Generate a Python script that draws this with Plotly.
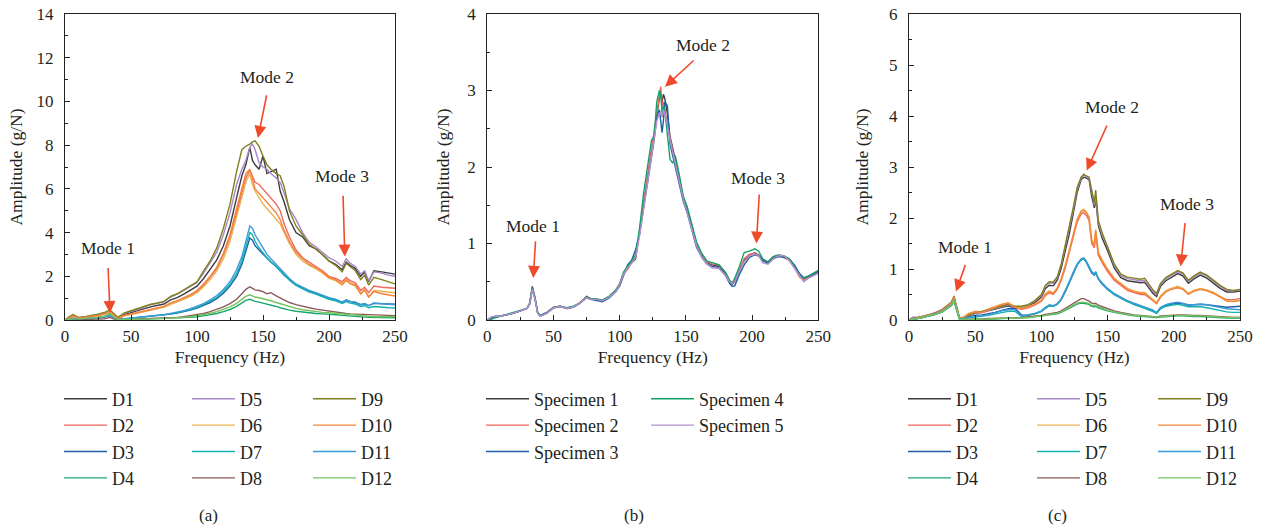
import plotly.graph_objects as go

# ---------------- data ----------------
FA = [0, 3, 6, 10, 15, 20, 25, 30, 34, 36,
      40, 45, 50, 55, 60, 65, 70, 75, 80, 85,
      90, 95, 100, 105, 110, 115, 120, 125, 130, 134,
      137, 140, 142, 144, 147, 150, 153, 156, 160, 163,
      166, 170, 175, 180, 185, 190, 195, 200, 205, 210,
      213, 216, 220, 224, 227, 230, 234, 240, 245, 250]

A_D1 = [0, 0.10, 0.20, 0.10, 0.12, 0.17, 0.23, 0.30, 0.40, 0.30,
        0.08, 0.25, 0.35, 0.42, 0.52, 0.60, 0.66, 0.73, 0.92, 1.02,
        1.18, 1.35, 1.55, 1.90, 2.30, 2.75, 3.40, 4.30, 5.60, 6.60,
        7.10, 7.90, 7.30, 7.10, 6.90, 7.50, 6.70, 6.80, 6.90, 5.90,
        5.40, 4.60, 4.00, 3.80, 3.40, 3.25, 3.00, 2.70, 2.55, 2.30,
        2.65, 2.50, 2.35, 2.00, 2.20, 1.75, 2.25, 2.20, 2.15, 2.10]
A_D5 = [0, 0.12, 0.22, 0.10, 0.13, 0.18, 0.25, 0.32, 0.42, 0.33,
        0.10, 0.30, 0.40, 0.48, 0.60, 0.70, 0.76, 0.83, 1.05, 1.18,
        1.35, 1.52, 1.72, 2.15, 2.60, 3.10, 3.90, 4.90, 6.20, 6.90,
        7.30, 7.90, 8.05, 7.80, 7.20, 7.00, 6.90, 6.70, 6.50, 6.30,
        5.80, 5.10, 4.60, 4.00, 3.55, 3.35, 3.10, 2.85, 2.70, 2.45,
        2.80, 2.60, 2.45, 2.10, 2.25, 1.80, 2.20, 2.15, 2.05, 2.00]
A_D9 = [0, 0.15, 0.25, 0.12, 0.15, 0.20, 0.27, 0.35, 0.45, 0.35,
        0.12, 0.32, 0.42, 0.50, 0.62, 0.72, 0.78, 0.85, 1.08, 1.20,
        1.38, 1.55, 1.75, 2.25, 2.70, 3.30, 4.20, 5.30, 6.80, 7.80,
        7.95, 8.05, 8.15, 8.20, 7.95, 7.50, 7.10, 6.90, 6.70, 6.60,
        6.10, 5.00, 4.30, 3.90, 3.45, 3.25, 3.00, 2.70, 2.50, 2.20,
        2.60, 2.45, 2.25, 1.85, 2.05, 1.60, 1.95, 1.85, 1.75, 1.65]
A_D2 = [0, 0.10, 0.18, 0.08, 0.10, 0.15, 0.20, 0.27, 0.38, 0.28,
        0.06, 0.20, 0.28, 0.33, 0.40, 0.47, 0.52, 0.60, 0.75, 0.85,
        0.98, 1.12, 1.30, 1.60, 1.95, 2.35, 3.00, 3.80, 4.90, 5.80,
        6.50, 6.85, 6.60, 6.30, 6.20, 6.00, 5.80, 5.60, 5.30, 5.00,
        4.40, 3.80, 3.20, 2.85, 2.65, 2.45, 2.25, 2.00, 1.90, 1.75,
        1.95, 1.80, 1.70, 1.35, 1.50, 1.25, 1.55, 1.50, 1.48, 1.45]
A_D6 = [0, 0.09, 0.17, 0.08, 0.10, 0.14, 0.19, 0.26, 0.36, 0.27,
        0.06, 0.19, 0.27, 0.32, 0.39, 0.45, 0.50, 0.58, 0.72, 0.82,
        0.95, 1.08, 1.25, 1.52, 1.85, 2.25, 2.80, 3.60, 4.70, 5.60,
        6.30, 6.70, 6.20, 5.90, 5.60, 5.30, 5.10, 4.90, 4.60, 4.40,
        4.00, 3.50, 3.00, 2.70, 2.50, 2.35, 2.15, 1.90, 1.80, 1.60,
        1.80, 1.65, 1.55, 1.20, 1.35, 1.05, 1.35, 1.30, 1.28, 1.25]
A_D10 = [0, 0.10, 0.19, 0.09, 0.11, 0.16, 0.21, 0.28, 0.40, 0.29,
         0.07, 0.21, 0.29, 0.34, 0.41, 0.48, 0.54, 0.62, 0.78, 0.88,
         1.02, 1.16, 1.35, 1.65, 2.00, 2.42, 3.05, 3.90, 5.10, 6.00,
         6.70, 6.90, 6.50, 6.00, 5.80, 5.60, 5.40, 5.20, 4.90, 4.60,
         4.10, 3.60, 3.10, 2.80, 2.55, 2.40, 2.20, 1.95, 1.85, 1.65,
         1.85, 1.70, 1.60, 1.20, 1.40, 1.05, 1.30, 1.20, 1.15, 1.10]
A_D3 = [0, 0.04, 0.07, 0.04, 0.05, 0.07, 0.09, 0.13, 0.20, 0.13,
        0.02, 0.05, 0.08, 0.10, 0.13, 0.16, 0.18, 0.22, 0.27, 0.32,
        0.38, 0.46, 0.55, 0.66, 0.80, 0.98, 1.22, 1.55, 2.00, 2.55,
        3.10, 3.75, 3.65, 3.40, 3.20, 3.00, 2.80, 2.65, 2.45, 2.25,
        2.05, 1.85, 1.60, 1.45, 1.32, 1.22, 1.10, 1.00, 0.93, 0.82,
        0.90, 0.84, 0.80, 0.70, 0.74, 0.66, 0.76, 0.74, 0.73, 0.72]
A_D7 = [0, 0.04, 0.07, 0.04, 0.05, 0.07, 0.09, 0.14, 0.21, 0.14,
        0.02, 0.05, 0.08, 0.11, 0.14, 0.17, 0.19, 0.23, 0.28, 0.34,
        0.40, 0.48, 0.58, 0.70, 0.85, 1.04, 1.30, 1.62, 2.12, 2.70,
        3.30, 4.00, 3.90, 3.60, 3.30, 3.05, 2.85, 2.65, 2.45, 2.25,
        2.05, 1.82, 1.58, 1.42, 1.28, 1.18, 1.05, 0.95, 0.88, 0.76,
        0.84, 0.77, 0.73, 0.62, 0.66, 0.56, 0.62, 0.58, 0.56, 0.55]
A_D11 = [0, 0.05, 0.08, 0.05, 0.06, 0.08, 0.10, 0.15, 0.22, 0.15,
         0.03, 0.06, 0.09, 0.12, 0.15, 0.18, 0.20, 0.24, 0.30, 0.36,
         0.43, 0.52, 0.62, 0.75, 0.92, 1.12, 1.40, 1.75, 2.30, 2.90,
         3.60, 4.30, 4.20, 3.90, 3.60, 3.30, 3.00, 2.80, 2.55, 2.35,
         2.15, 1.90, 1.65, 1.50, 1.35, 1.25, 1.12, 1.02, 0.95, 0.82,
         0.92, 0.85, 0.82, 0.70, 0.75, 0.65, 0.78, 0.75, 0.72, 0.70]
A_D4 = [0, 0.03, 0.05, 0.05, 0.07, 0.09, 0.11, 0.15, 0.28, 0.18,
        0.01, 0.01, 0.02, 0.03, 0.03, 0.04, 0.05, 0.06, 0.07, 0.08,
        0.10, 0.12, 0.15, 0.19, 0.24, 0.30, 0.38, 0.48, 0.62, 0.78,
        0.90, 0.95, 0.90, 0.85, 0.82, 0.78, 0.72, 0.68, 0.62, 0.56,
        0.50, 0.45, 0.40, 0.36, 0.33, 0.30, 0.28, 0.27, 0.24, 0.21,
        0.19, 0.17, 0.16, 0.14, 0.13, 0.12, 0.11, 0.11, 0.10, 0.10]
A_D8 = [0, 0.02, 0.03, 0.02, 0.02, 0.03, 0.04, 0.06, 0.12, 0.06,
        0.01, 0.02, 0.03, 0.04, 0.05, 0.06, 0.07, 0.08, 0.10, 0.12,
        0.15, 0.19, 0.24, 0.30, 0.38, 0.48, 0.60, 0.75, 0.95, 1.20,
        1.40, 1.52, 1.45, 1.38, 1.35, 1.30, 1.20, 1.25, 1.10, 1.00,
        0.90, 0.80, 0.70, 0.62, 0.56, 0.50, 0.45, 0.42, 0.38, 0.33,
        0.30, 0.28, 0.27, 0.25, 0.24, 0.23, 0.22, 0.21, 0.20, 0.20]
A_D12 = [0, 0.03, 0.05, 0.05, 0.07, 0.10, 0.12, 0.17, 0.30, 0.18,
         0.01, 0.02, 0.02, 0.03, 0.04, 0.05, 0.06, 0.07, 0.08, 0.10,
         0.12, 0.15, 0.19, 0.24, 0.30, 0.38, 0.48, 0.60, 0.76, 0.95,
         1.08, 1.15, 1.10, 1.05, 1.02, 0.98, 0.92, 0.88, 0.80, 0.74,
         0.68, 0.60, 0.53, 0.47, 0.42, 0.38, 0.35, 0.33, 0.30, 0.26,
         0.24, 0.22, 0.21, 0.19, 0.18, 0.17, 0.16, 0.15, 0.15, 0.15]

FB = [0, 3, 6, 10, 15, 20, 25, 30, 32, 34,
      36, 38, 40, 45, 50, 55, 60, 65, 70, 75,
      78, 82, 87, 92, 97, 100, 103, 106, 109, 112,
      115, 118, 121, 124, 126, 128, 130, 131, 132, 133,
      134, 136, 138, 140, 142, 145, 148, 151, 155, 158,
      162, 166, 170, 175, 180, 183, 185, 187, 190, 194,
      198, 202, 205, 208, 212, 216, 220, 224, 228, 232,
      236, 239, 243, 247, 250]

B_S1 = [0, 0.03, 0.04, 0.05, 0.07, 0.09, 0.12, 0.15, 0.22, 0.44,
        0.30, 0.10, 0.05, 0.09, 0.16, 0.18, 0.15, 0.17, 0.22, 0.31,
        0.28, 0.27, 0.25, 0.30, 0.38, 0.45, 0.60, 0.68, 0.75, 0.80,
        1.15, 1.50, 1.85, 2.20, 2.40, 2.70, 2.90, 2.95, 2.85, 2.95,
        2.90, 2.70, 2.40, 2.25, 2.10, 1.85, 1.60, 1.45, 1.20, 1.00,
        0.85, 0.75, 0.72, 0.70, 0.60, 0.50, 0.47, 0.50, 0.62, 0.78,
        0.85, 0.88, 0.85, 0.78, 0.75, 0.82, 0.84, 0.83, 0.80, 0.70,
        0.60, 0.55, 0.57, 0.60, 0.63]
B_S2 = [0, 0.02, 0.04, 0.05, 0.07, 0.09, 0.12, 0.15, 0.21, 0.42,
        0.28, 0.09, 0.05, 0.10, 0.17, 0.18, 0.15, 0.17, 0.23, 0.30,
        0.28, 0.27, 0.26, 0.31, 0.39, 0.48, 0.62, 0.66, 0.76, 0.82,
        1.18, 1.55, 1.90, 2.25, 2.45, 2.75, 2.95, 3.05, 2.80, 2.85,
        2.75, 2.55, 2.35, 2.20, 2.05, 1.80, 1.58, 1.42, 1.18, 0.98,
        0.84, 0.76, 0.73, 0.72, 0.62, 0.52, 0.48, 0.52, 0.65, 0.80,
        0.86, 0.87, 0.84, 0.78, 0.76, 0.83, 0.85, 0.82, 0.78, 0.68,
        0.56, 0.52, 0.56, 0.60, 0.62]
B_S3 = [0, 0.03, 0.05, 0.05, 0.07, 0.09, 0.12, 0.15, 0.21, 0.40,
        0.28, 0.10, 0.06, 0.10, 0.16, 0.18, 0.15, 0.17, 0.22, 0.29,
        0.27, 0.26, 0.24, 0.29, 0.37, 0.45, 0.58, 0.72, 0.78, 0.92,
        1.12, 1.45, 1.80, 2.15, 2.35, 2.65, 2.75, 2.60, 2.45, 2.60,
        2.85, 2.80, 2.30, 2.15, 2.00, 1.75, 1.55, 1.40, 1.12, 0.95,
        0.82, 0.73, 0.70, 0.68, 0.58, 0.48, 0.44, 0.45, 0.58, 0.72,
        0.82, 0.85, 0.84, 0.78, 0.74, 0.80, 0.83, 0.82, 0.80, 0.72,
        0.60, 0.55, 0.57, 0.60, 0.64]
B_S4 = [0, 0.01, 0.03, 0.05, 0.07, 0.09, 0.12, 0.15, 0.21, 0.42,
        0.29, 0.10, 0.05, 0.09, 0.16, 0.18, 0.16, 0.18, 0.22, 0.30,
        0.28, 0.28, 0.26, 0.31, 0.39, 0.47, 0.63, 0.70, 0.77, 0.85,
        1.20, 1.65, 2.00, 2.35, 2.40, 2.85, 3.00, 2.95, 2.70, 2.80,
        2.75, 2.45, 2.10, 2.05, 2.15, 1.90, 1.62, 1.48, 1.20, 1.02,
        0.87, 0.77, 0.75, 0.72, 0.62, 0.52, 0.48, 0.55, 0.68, 0.88,
        0.90, 0.93, 0.90, 0.80, 0.76, 0.83, 0.85, 0.84, 0.80, 0.70,
        0.58, 0.54, 0.58, 0.62, 0.65]
B_S5 = [0, 0.04, 0.05, 0.05, 0.07, 0.09, 0.12, 0.15, 0.21, 0.40,
        0.28, 0.09, 0.05, 0.09, 0.16, 0.18, 0.15, 0.17, 0.22, 0.29,
        0.27, 0.27, 0.25, 0.30, 0.37, 0.46, 0.60, 0.68, 0.74, 0.82,
        1.10, 1.45, 1.80, 2.15, 2.35, 2.60, 2.70, 2.72, 2.65, 2.75,
        2.70, 2.55, 2.35, 2.20, 2.05, 1.80, 1.58, 1.40, 1.15, 0.97,
        0.82, 0.73, 0.68, 0.68, 0.58, 0.50, 0.48, 0.50, 0.62, 0.76,
        0.84, 0.86, 0.84, 0.75, 0.73, 0.80, 0.84, 0.84, 0.78, 0.68,
        0.57, 0.50, 0.55, 0.59, 0.61]

FC = [0, 3, 6, 10, 15, 20, 25, 30, 32, 34,
      36, 38, 40, 45, 50, 55, 60, 65, 70, 75,
      80, 85, 90, 95, 100, 103, 106, 109, 112, 115,
      118, 121, 124, 127, 130, 132, 134, 136, 138, 140,
      141, 143, 146, 150, 155, 160, 165, 170, 175, 178,
      181, 184, 187, 190, 194, 198, 203, 207, 211, 215,
      220, 225, 230, 235, 240, 245, 250]

C_D1 = [0, 0.02, 0.04, 0.06, 0.09, 0.13, 0.18, 0.27, 0.32, 0.43,
        0.22, 0.04, 0.03, 0.08, 0.13, 0.15, 0.18, 0.21, 0.25, 0.28,
        0.24, 0.24, 0.27, 0.34, 0.45, 0.62, 0.68, 0.67, 0.78, 1.02,
        1.35, 1.68, 2.08, 2.50, 2.75, 2.80, 2.78, 2.75, 2.42, 2.20,
        2.40, 1.85, 1.60, 1.36, 1.02, 0.83, 0.77, 0.75, 0.73, 0.74,
        0.63, 0.53, 0.46, 0.66, 0.77, 0.84, 0.91, 0.86, 0.72, 0.80,
        0.88, 0.82, 0.72, 0.62, 0.55, 0.55, 0.57]
C_D5 = [0, 0.06, 0.05, 0.07, 0.10, 0.15, 0.21, 0.30, 0.34, 0.45,
        0.24, 0.05, 0.04, 0.09, 0.14, 0.16, 0.19, 0.22, 0.26, 0.30,
        0.26, 0.26, 0.29, 0.37, 0.48, 0.66, 0.73, 0.72, 0.83, 1.08,
        1.42, 1.76, 2.15, 2.56, 2.78, 2.86, 2.80, 2.78, 2.50, 2.25,
        2.45, 1.90, 1.66, 1.42, 1.07, 0.87, 0.81, 0.79, 0.77, 0.78,
        0.67, 0.57, 0.50, 0.70, 0.81, 0.88, 0.95, 0.90, 0.76, 0.84,
        0.92, 0.86, 0.76, 0.66, 0.58, 0.57, 0.59]
C_D9 = [0, 0.03, 0.05, 0.07, 0.10, 0.14, 0.20, 0.30, 0.35, 0.47,
        0.25, 0.05, 0.04, 0.10, 0.15, 0.17, 0.20, 0.23, 0.27, 0.31,
        0.27, 0.27, 0.30, 0.38, 0.50, 0.68, 0.75, 0.74, 0.85, 1.10,
        1.45, 1.80, 2.20, 2.60, 2.80, 2.85, 2.82, 2.80, 2.55, 2.30,
        2.55, 1.95, 1.70, 1.45, 1.10, 0.90, 0.84, 0.82, 0.80, 0.82,
        0.70, 0.60, 0.52, 0.72, 0.83, 0.90, 0.97, 0.92, 0.78, 0.86,
        0.94, 0.88, 0.78, 0.68, 0.60, 0.58, 0.60]
C_D2 = [0, 0.02, 0.04, 0.06, 0.09, 0.12, 0.18, 0.27, 0.32, 0.43,
        0.21, 0.04, 0.03, 0.10, 0.14, 0.14, 0.19, 0.24, 0.28, 0.31,
        0.24, 0.21, 0.24, 0.29, 0.37, 0.48, 0.53, 0.50, 0.60, 0.78,
        1.02, 1.32, 1.62, 1.92, 2.08, 2.10, 2.05, 1.95, 1.50, 1.42,
        1.70, 1.27, 1.12, 0.95, 0.78, 0.68, 0.58, 0.54, 0.50, 0.50,
        0.44, 0.38, 0.33, 0.46, 0.56, 0.61, 0.64, 0.61, 0.51, 0.57,
        0.61, 0.58, 0.53, 0.46, 0.40, 0.40, 0.42]
C_D6 = [0, 0.02, 0.04, 0.06, 0.09, 0.12, 0.18, 0.27, 0.32, 0.44,
        0.22, 0.04, 0.03, 0.13, 0.17, 0.16, 0.22, 0.27, 0.31, 0.34,
        0.26, 0.23, 0.26, 0.31, 0.39, 0.52, 0.57, 0.53, 0.63, 0.82,
        1.07, 1.37, 1.68, 1.98, 2.14, 2.17, 2.12, 2.02, 1.58, 1.48,
        1.78, 1.33, 1.18, 1.00, 0.82, 0.72, 0.62, 0.57, 0.54, 0.54,
        0.47, 0.40, 0.34, 0.47, 0.57, 0.62, 0.66, 0.62, 0.52, 0.58,
        0.62, 0.59, 0.54, 0.46, 0.38, 0.37, 0.39]
C_D10 = [0, 0.02, 0.04, 0.06, 0.09, 0.13, 0.19, 0.28, 0.33, 0.45,
         0.22, 0.04, 0.03, 0.12, 0.16, 0.15, 0.20, 0.25, 0.30, 0.33,
         0.25, 0.22, 0.25, 0.30, 0.38, 0.50, 0.55, 0.52, 0.62, 0.80,
         1.05, 1.35, 1.65, 1.95, 2.12, 2.15, 2.10, 2.00, 1.55, 1.45,
         1.75, 1.30, 1.15, 0.98, 0.80, 0.70, 0.60, 0.55, 0.52, 0.52,
         0.45, 0.38, 0.32, 0.45, 0.55, 0.60, 0.63, 0.60, 0.50, 0.56,
         0.60, 0.57, 0.52, 0.45, 0.37, 0.36, 0.38]
C_D3 = [0, 0.02, 0.03, 0.05, 0.08, 0.11, 0.16, 0.25, 0.29, 0.38,
        0.19, 0.03, 0.02, 0.06, 0.09, 0.10, 0.12, 0.15, 0.19, 0.22,
        0.23, 0.10, 0.09, 0.12, 0.17, 0.24, 0.28, 0.27, 0.31, 0.40,
        0.55, 0.72, 0.92, 1.08, 1.18, 1.20, 1.13, 1.02, 0.92, 0.88,
        0.92, 0.80, 0.70, 0.60, 0.50, 0.43, 0.36, 0.31, 0.26, 0.23,
        0.20, 0.18, 0.13, 0.23, 0.28, 0.31, 0.33, 0.32, 0.29, 0.30,
        0.31, 0.30, 0.28, 0.27, 0.25, 0.26, 0.27]
C_D7 = [0, 0.02, 0.03, 0.05, 0.08, 0.11, 0.16, 0.25, 0.29, 0.38,
        0.19, 0.03, 0.02, 0.05, 0.06, 0.07, 0.09, 0.12, 0.15, 0.17,
        0.17, 0.07, 0.09, 0.12, 0.17, 0.23, 0.28, 0.27, 0.31, 0.40,
        0.56, 0.73, 0.93, 1.08, 1.18, 1.21, 1.14, 1.04, 0.94, 0.89,
        0.94, 0.81, 0.71, 0.60, 0.50, 0.43, 0.36, 0.30, 0.26, 0.23,
        0.20, 0.18, 0.14, 0.22, 0.27, 0.29, 0.31, 0.29, 0.26, 0.26,
        0.26, 0.24, 0.21, 0.18, 0.16, 0.15, 0.15]
C_D11 = [0, 0.02, 0.03, 0.05, 0.08, 0.12, 0.17, 0.26, 0.30, 0.40,
         0.20, 0.03, 0.02, 0.05, 0.07, 0.08, 0.10, 0.14, 0.18, 0.20,
         0.20, 0.08, 0.10, 0.13, 0.18, 0.25, 0.30, 0.28, 0.32, 0.42,
         0.58, 0.75, 0.95, 1.10, 1.20, 1.22, 1.15, 1.05, 0.95, 0.90,
         0.95, 0.82, 0.72, 0.62, 0.52, 0.45, 0.38, 0.33, 0.28, 0.25,
         0.22, 0.20, 0.15, 0.25, 0.30, 0.33, 0.35, 0.33, 0.30, 0.30,
         0.31, 0.30, 0.27, 0.24, 0.22, 0.21, 0.20]
C_D4 = [0, 0.02, 0.03, 0.05, 0.08, 0.11, 0.16, 0.24, 0.28, 0.37,
        0.18, 0.02, 0.01, 0.01, 0.01, 0.02, 0.02, 0.02, 0.03, 0.03,
        0.03, 0.04, 0.05, 0.06, 0.07, 0.09, 0.10, 0.11, 0.12, 0.15,
        0.19, 0.23, 0.27, 0.31, 0.33, 0.33, 0.32, 0.30, 0.27, 0.26,
        0.27, 0.24, 0.21, 0.18, 0.15, 0.12, 0.10, 0.08, 0.07, 0.06,
        0.06, 0.05, 0.05, 0.06, 0.07, 0.08, 0.08, 0.08, 0.07, 0.07,
        0.07, 0.06, 0.05, 0.04, 0.04, 0.04, 0.04]
C_D8 = [0, 0.02, 0.03, 0.05, 0.08, 0.12, 0.17, 0.26, 0.30, 0.42,
        0.20, 0.03, 0.01, 0.01, 0.02, 0.02, 0.03, 0.03, 0.04, 0.04,
        0.04, 0.05, 0.06, 0.07, 0.09, 0.11, 0.12, 0.13, 0.15, 0.18,
        0.23, 0.28, 0.33, 0.38, 0.42, 0.42, 0.40, 0.37, 0.33, 0.32,
        0.33, 0.29, 0.26, 0.22, 0.18, 0.15, 0.12, 0.10, 0.09, 0.08,
        0.08, 0.07, 0.06, 0.08, 0.09, 0.10, 0.10, 0.10, 0.09, 0.09,
        0.09, 0.08, 0.07, 0.06, 0.05, 0.05, 0.05]
C_D12 = [0, 0.02, 0.03, 0.05, 0.08, 0.11, 0.16, 0.25, 0.29, 0.39,
         0.19, 0.02, 0.01, 0.01, 0.01, 0.02, 0.02, 0.03, 0.03, 0.03,
         0.04, 0.04, 0.05, 0.06, 0.08, 0.09, 0.11, 0.12, 0.13, 0.16,
         0.20, 0.25, 0.29, 0.33, 0.35, 0.35, 0.34, 0.32, 0.29, 0.28,
         0.29, 0.26, 0.23, 0.19, 0.16, 0.13, 0.11, 0.09, 0.08, 0.07,
         0.07, 0.06, 0.06, 0.07, 0.08, 0.09, 0.09, 0.09, 0.08, 0.08,
         0.08, 0.07, 0.06, 0.05, 0.05, 0.05, 0.05]

D_NAMES = ["D1", "D2", "D3", "D4", "D5", "D6", "D7", "D8", "D9", "D10", "D11", "D12"]
D_COLORS = ["#3d3d3d", "#f0675d", "#1f5ea8", "#1aa673", "#a985c9", "#e9b24e",
            "#12b3ae", "#8c5b5b", "#80801e", "#f5843e", "#3b9bd9", "#74c45c"]
A_SERIES = [A_D1, A_D2, A_D3, A_D4, A_D5, A_D6, A_D7, A_D8, A_D9, A_D10, A_D11, A_D12]
C_SERIES = [C_D1, C_D2, C_D3, C_D4, C_D5, C_D6, C_D7, C_D8, C_D9, C_D10, C_D11, C_D12]
S_NAMES = ["Specimen 1", "Specimen 2", "Specimen 3", "Specimen 4", "Specimen 5"]
S_COLORS = ["#3d3d3d", "#f0675d", "#1f5ea8", "#14a068", "#b290d2"]
B_SERIES = [B_S1, B_S2, B_S3, B_S4, B_S5]

X_TICKS = [0, 50, 100, 150, 200, 250]
PANEL_LABELS = ["(a)", "(b)", "(c)"]

# ---------------- figure ----------------
FONT = "Liberation Serif, Times New Roman, DejaVu Serif, serif"
TXT = "#231f20"
W, H = 1261, 529
fig = go.Figure()

def px(v):
    return v / W

def py(v):
    return 1 - v / H

A_LEG = ["legend", "legend", "legend", "legend", "legend2", "legend2", "legend2", "legend2",
         "legend3", "legend3", "legend3", "legend3"]
C_LEG = ["legend6", "legend6", "legend6", "legend6", "legend7", "legend7", "legend7", "legend7",
         "legend8", "legend8", "legend8", "legend8"]
B_LEG = ["legend4", "legend4", "legend4", "legend5", "legend5"]

for name, col, ys, lg in zip(D_NAMES, D_COLORS, A_SERIES, A_LEG):
    fig.add_trace(go.Scatter(x=FA, y=ys, mode="lines", name=name, legend=lg,
                             line=dict(color=col, width=1.4), xaxis="x", yaxis="y"))
for name, col, ys, lg in zip(S_NAMES, S_COLORS, B_SERIES, B_LEG):
    fig.add_trace(go.Scatter(x=FB, y=ys, mode="lines", name=name, legend=lg,
                             line=dict(color=col, width=1.4), xaxis="x2", yaxis="y2"))
for name, col, ys, lg in zip(D_NAMES, D_COLORS, C_SERIES, C_LEG):
    fig.add_trace(go.Scatter(x=FC, y=ys, mode="lines", name=name, legend=lg,
                             line=dict(color=col, width=1.4), xaxis="x3", yaxis="y3"))

x_dom = [(65, 395), (487.3, 818.3), (909, 1240)]
y_max = [14, 4, 6]
y_dtick = [2, 1, 1]
y_minor = [1, 0.5, 0.5]
y_standoff = [9, 13, 15]

layout = dict(
    width=W, height=H, margin=dict(l=0, r=0, t=0, b=0, autoexpand=False),
    paper_bgcolor="white", plot_bgcolor="white", showlegend=True,
    font=dict(family=FONT, size=17, color=TXT),
)
for i in range(3):
    sfx = "" if i == 0 else str(i + 1)
    layout["xaxis" + sfx] = dict(
        domain=[px(x_dom[i][0]), px(x_dom[i][1])], range=[0, 250], anchor="y" + sfx,
        tickvals=X_TICKS, ticks="inside", ticklen=5, tickwidth=1, tickcolor="#222",
        minor=dict(dtick=25, ticks="inside", ticklen=3, tickcolor="#222"),
        showline=True, linecolor="#222", linewidth=1.2, mirror=True, showgrid=False, zeroline=False,
        tickfont=dict(family=FONT, size=17, color=TXT), ticklabelstandoff=0, automargin=False,
        title=dict(text="Frequency (Hz)", font=dict(family=FONT, size=17.5, color=TXT), standoff=6),
    )
    layout["yaxis" + sfx] = dict(
        domain=[py(320), py(14)], range=[0, y_max[i]], anchor="x" + sfx,
        dtick=y_dtick[i], ticks="inside", ticklen=5, tickwidth=1, tickcolor="#222",
        minor=dict(dtick=y_minor[i], ticks="inside", ticklen=3, tickcolor="#222"),
        showline=True, linecolor="#222", linewidth=1.2, mirror=True, showgrid=False, zeroline=False,
        tickfont=dict(family=FONT, size=17, color=TXT), ticklabelstandoff=7, automargin=False,
        title=dict(text="Amplitude (g/N)", font=dict(family=FONT, size=17.5, color=TXT),
                   standoff=y_standoff[i]),
    )

leg_x = [65, 193, 314, 487, 652, 909, 1038, 1159]
for j, lx in enumerate(leg_x):
    key = "legend" if j == 0 else "legend" + str(j + 1)
    layout[key] = dict(
        x=px(lx - 6), xanchor="left", y=py(380.5), yanchor="top", orientation="v",
        bgcolor="rgba(0,0,0,0)", borderwidth=0, itemwidth=43,
        font=dict(family=FONT, size=18, color=TXT), tracegroupgap=0,
    )

fig.update_layout(**layout)

ARROW = "#f04a2c"
MODES = [
    [("Mode 1", 32.6, 3.3, 32.6, 2.45, 34.1, 0.32),
     ("Mode 2", 153, 11.1, 153, 10.35, 146.2, 8.33),
     ("Mode 3", 209.8, 6.6, 210.6, 5.75, 212, 2.9)],
    [("Mode 1", 34.7, 1.23, 36.5, 1.05, 34.7, 0.55),
     ("Mode 2", 163, 3.6, 157, 3.41, 134.2, 3.05),
     ("Mode 3", 204.7, 1.85, 205.5, 1.66, 203.2, 1.0)],
    [("Mode 1", 42.3, 1.44, 43, 1.11, 35.5, 0.56),
     ("Mode 2", 153, 4.17, 150, 3.84, 134.2, 2.93),
     ("Mode 3", 209.7, 2.27, 208.6, 1.93, 205.2, 1.05)],
]
for i, modes in enumerate(MODES):
    sfx = "" if i == 0 else str(i + 1)
    for (t, tx, ty, ax_, ay_, hx, hy) in modes:
        fig.add_annotation(x=tx, y=ty, xref="x" + sfx, yref="y" + sfx, text=t, showarrow=False,
                           xanchor="center", yanchor="middle",
                           font=dict(family=FONT, size=17.5, color=TXT))
        fig.add_annotation(x=hx, y=hy, xref="x" + sfx, yref="y" + sfx, ax=ax_, ay=ay_,
                           axref="x" + sfx, ayref="y" + sfx, text="", showarrow=True,
                           arrowhead=2, arrowsize=1.5, arrowwidth=1.6, arrowcolor=ARROW, standoff=0)

for lbl, cx in zip(PANEL_LABELS, [208, 634, 1057]):
    fig.add_annotation(x=px(cx), y=py(515), xref="paper", yref="paper", text=lbl, showarrow=False,
                       xanchor="center", yanchor="middle",
                       font=dict(family=FONT, size=17, color=TXT))

# remove the browser's default 8px page margin so the figure sits at the window's origin
fig.write_html("out.html", config={"displayModeBar": False},
               post_script="document.body.style.margin='0';")
